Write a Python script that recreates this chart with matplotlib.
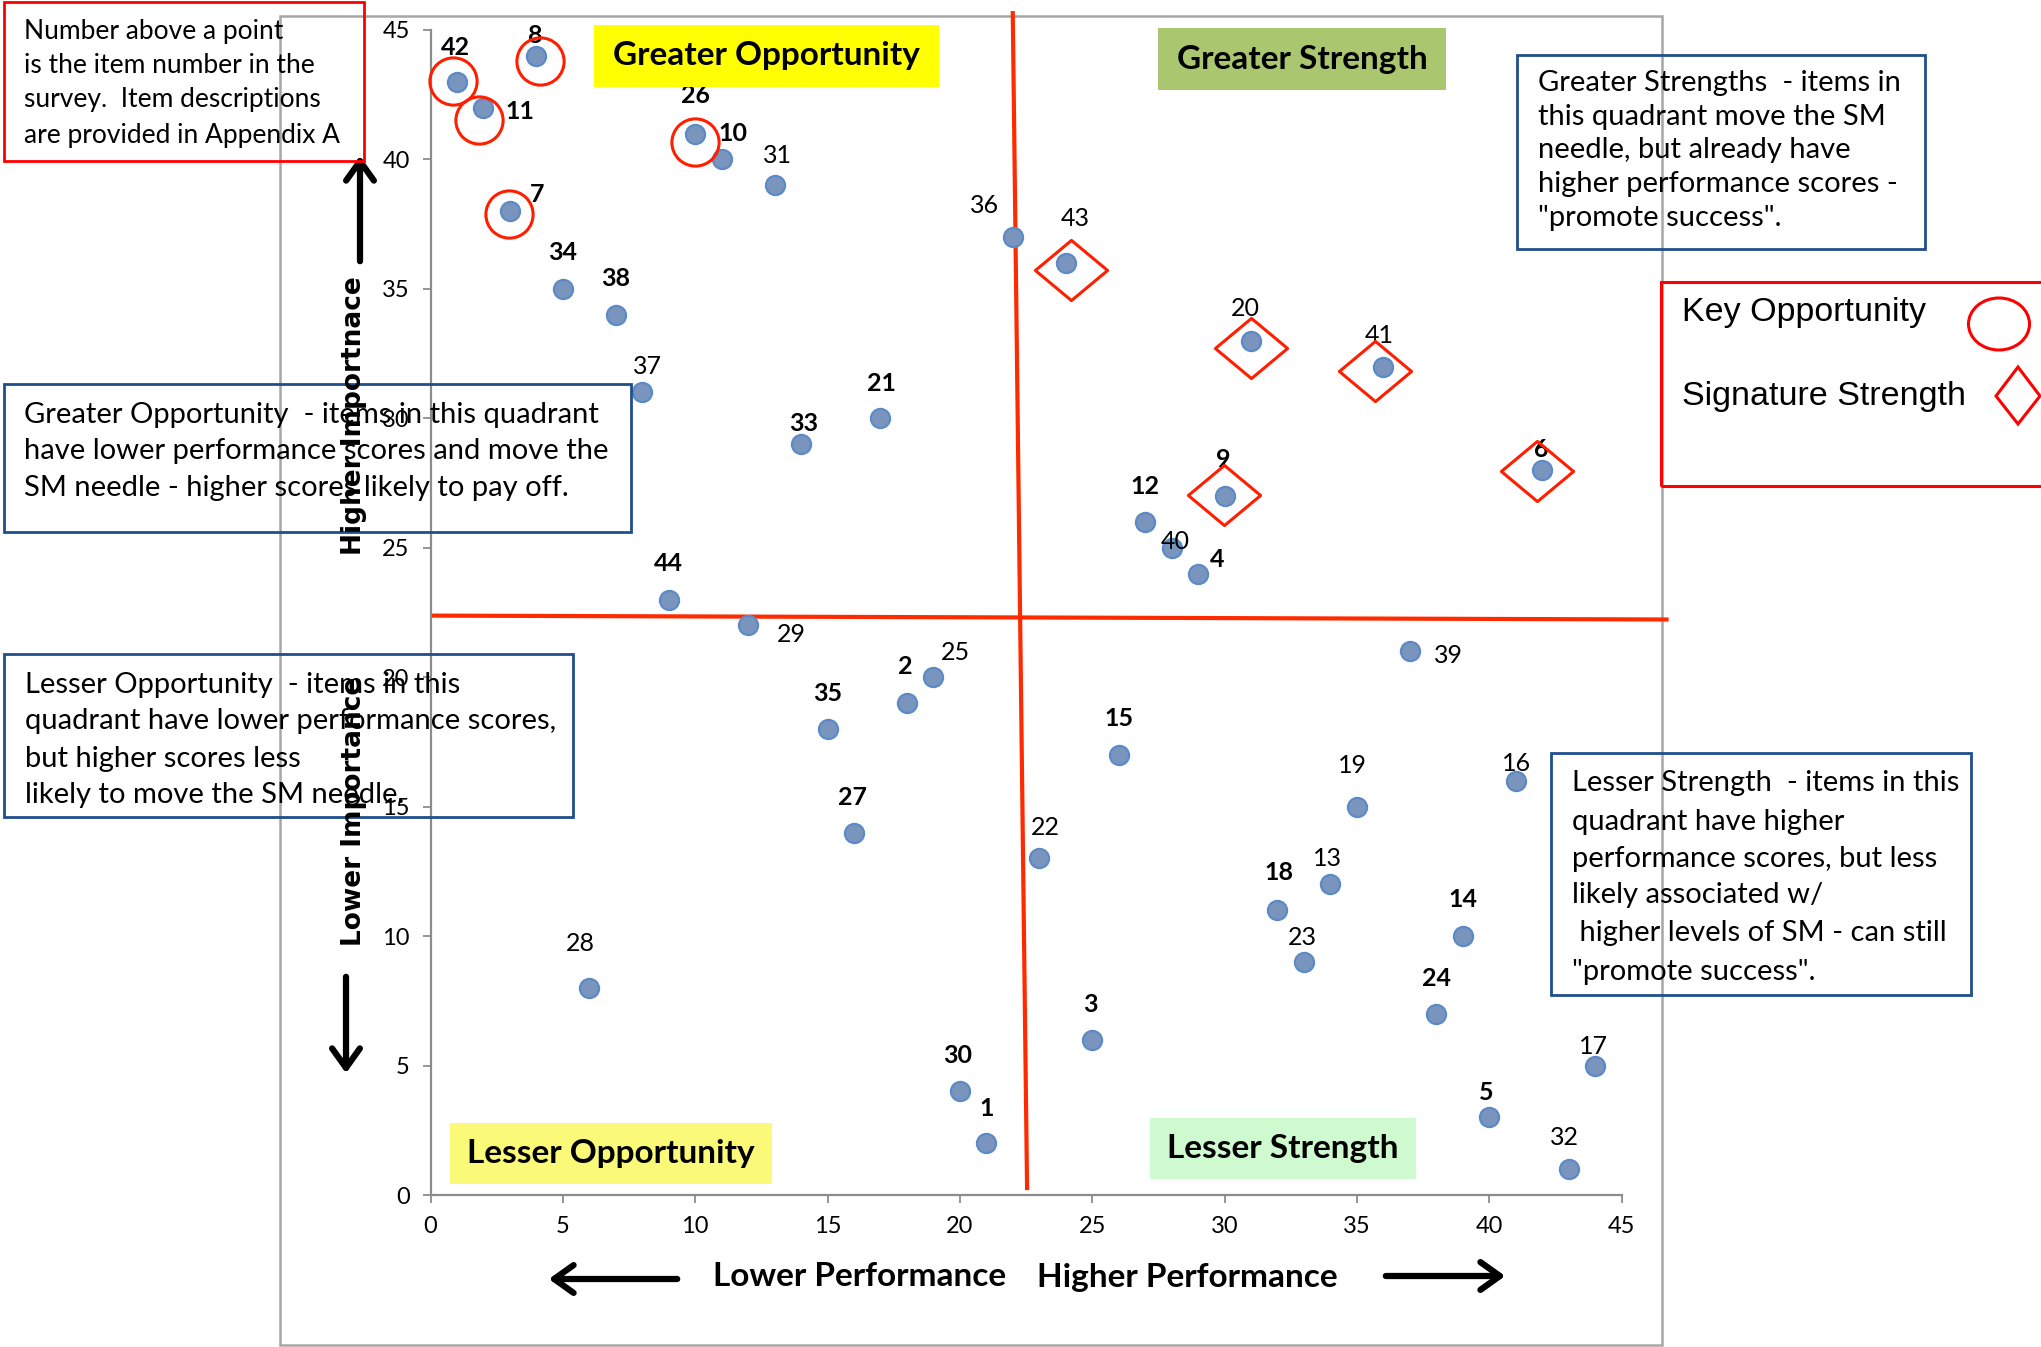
import matplotlib
matplotlib.use("Agg")
import matplotlib.pyplot as plt
from matplotlib.patches import Rectangle, Ellipse, Polygon
from matplotlib.path import Path
import matplotlib.transforms as mtransforms

# ---------------- data ----------------
items = list(range(1, 45))
performance = [21, 18, 25, 29, 40, 42, 3, 4, 30, 11, 2, 27, 34, 39, 26, 41, 44, 32, 35, 31, 17, 23,
               33, 38, 19, 10, 16, 6, 12, 20, 13, 43, 14, 5, 15, 22, 8, 7, 37, 28, 36, 1, 24, 9]
importance = [2, 19, 6, 24, 3, 28, 38, 44, 27, 40, 42, 26, 12, 10, 17, 16, 5, 11, 15, 33, 30, 13,
              9, 7, 20, 41, 14, 8, 22, 4, 39, 1, 29, 35, 18, 37, 31, 34, 21, 25, 32, 43, 36, 23]
key_opportunity = [42, 8, 11, 26, 7]
signature_strength = [43, 20, 41, 9, 6]
bold_items = {42, 8, 11, 26, 10, 7, 34, 38, 21, 33, 12, 9, 4, 44, 2, 35, 15, 27, 18, 14, 24, 3, 30, 1, 5, 6}
x_ticks = [0, 5, 10, 15, 20, 25, 30, 35, 40, 45]
y_ticks = [0, 5, 10, 15, 20, 25, 30, 35, 40, 45]
# dividing lines (data units): vertical and horizontal red lines
vline_x = [22.0, 22.54]
vline_y = [45.65, 0.27]
hline_x = [0.06, 46.7]
hline_y = [22.38, 22.23]

# ---------------- style / layout ----------------
W, H, DPI = 2041, 1347, 100
SANS = ["Lato", "DejaVu Sans"]
RED = "#FF2A00"

# label offsets (pixels, right / down) relative to point
lab_off = {42: (-1, -26), 8: (-1, -16), 11: (28, 3), 26: (0, -29), 10: (9, -20), 31: (2, -23),
           7: (21, -13), 36: (-22, -24), 43: (7, -34), 34: (0, -28), 38: (0, -28), 20: (-4, -25),
           41: (-3, -24), 37: (4, -20), 21: (1, -27), 33: (2, -16), 6: (-1, -16), 9: (-1, -28),
           12: (0, -27), 40: (3, -5), 4: (15, -11), 44: (0, -28), 29: (33, 7), 39: (30, 3),
           25: (17, -19), 2: (-1, -28), 35: (0, -27), 15: (0, -28), 16: (1, -13), 19: (-3, -32),
           27: (-1, -27), 22: (5, -24), 13: (-2, -20), 18: (1, -29), 14: (0, -28), 23: (-1, -19),
           28: (-7, -34), 24: (0, -27), 3: (-1, -27), 17: (-1, -15), 30: (-2, -28), 5: (-2, -19),
           1: (0, -27), 32: (-3, -24)}
circ_off = {42: (-4, -1), 8: (4, 5), 11: (-4, 12), 26: (0, 8), 7: (-1, 3)}
diam_off = {43: (5, 7), 20: (0, 7), 41: (-8, 4), 9: (-1, -1), 6: (-5, 1)}

fig = plt.figure(figsize=(W / DPI, H / DPI), dpi=DPI)
fig.patch.set_facecolor("white")


def fx(px):
    return px / W


def fy(py):
    return 1 - py / H


def frect(x0, y0, x1, y1, **kw):
    r = Rectangle((fx(x0), fy(y1)), (x1 - x0) / W, (y1 - y0) / H, transform=fig.transFigure, **kw)
    fig.add_artist(r)
    return r


def ftext(px, py, s, **kw):
    return fig.text(fx(px), fy(py), s, **kw)


# outer chart frame
frect(280, 16, 1662, 1345, fill=False, ec="#A6A6A6", lw=1.8, zorder=0)

ax = fig.add_axes([fx(430.5), fy(1195), (1621.5 - 430.5) / W, (1195 - 30) / H])
ax.set_facecolor("none")
ax.set_xlim(0, 45)
ax.set_ylim(0, 45)
ax.set_xticks(x_ticks)
ax.set_yticks(y_ticks)
for s in ("top", "right"):
    ax.spines[s].set_visible(False)
for s in ("left", "bottom"):
    ax.spines[s].set_color("#8C8C8C")
    ax.spines[s].set_linewidth(1.6)
ax.tick_params(direction="out", length=6, width=1.3, color="#8C8C8C", labelsize=17, pad=9)
for lab in ax.get_xticklabels() + ax.get_yticklabels():
    lab.set_family(SANS)

# red divider lines
ax.plot(vline_x, vline_y, color=RED, lw=3, clip_on=False, zorder=2)
ax.plot(hline_x, hline_y, color=RED, lw=3, clip_on=False, zorder=2)

# points
ax.scatter(performance, importance, s=190, c="#7A95BD", edgecolors="#5C8AC6", linewidths=1.6, zorder=4)

# labels
for it, x, y in zip(items, performance, importance):
    dx, dy = lab_off[it]
    ax.annotate(str(it), (x, y), xytext=(dx * 1.3, -dy * 1.3), textcoords="offset pixels",
                ha="center", va="center", fontsize=18, family=SANS,
                fontweight="bold" if it in bold_items else "normal", zorder=5)

# key opportunity circles
lookup = {it: (x, y) for it, x, y in zip(items, performance, importance)}
for it in key_opportunity:
    x, y = lookup[it]
    dx, dy = circ_off[it]
    tr = mtransforms.offset_copy(ax.transData, fig=fig, x=dx, y=-dy, units="dots")
    ax.plot([x], [y], marker="o", ms=34, mfc="none", mec="#FF1E00", mew=2.2, transform=tr,
            clip_on=False, zorder=5)

# signature strength diamonds
dpath = Path([(-0.6, 0), (0, 0.5), (0.6, 0), (0, -0.5), (-0.6, 0)],
             [Path.MOVETO, Path.LINETO, Path.LINETO, Path.LINETO, Path.CLOSEPOLY])
for it in signature_strength:
    x, y = lookup[it]
    dx, dy = diam_off[it]
    tr = mtransforms.offset_copy(ax.transData, fig=fig, x=dx, y=-dy, units="dots")
    ax.plot([x], [y], marker=dpath, ms=52, mfc="none", mec="#FF1E00", mew=2.2, transform=tr,
            clip_on=False, zorder=5)

# quadrant title boxes
quads = [
    ("Greater Opportunity", (594, 25, 939, 87), "#FFFF00"),
    ("Greater Strength", (1158, 28, 1446, 90), "#AAC66E"),
    ("Lesser Opportunity", (450, 1123, 772, 1184), "#FAFA78"),
    ("Lesser Strength", (1150, 1118, 1416, 1179), "#CFFACF"),
]
for txt, (x0, y0, x1, y1), col in quads:
    frect(x0, y0, x1, y1, fc=col, ec="none", zorder=1)
    ftext((x0 + x1) / 2, (y0 + y1) / 2, txt, ha="center", va="center", fontsize=24,
          fontweight="bold", family=SANS, zorder=6)

# description boxes (transparent)
boxes = [
    ((4, 2, 364, 161), "#FF0000", 24, 19,
     [("Number above a point", 31), ("is the item number in the", 65.5),
      ("survey.  Item descriptions", 100), ("are provided in Appendix A", 135)]),
    ((1517, 55, 1925, 249), "#1F4E8C", 1538, 21,
     [("Greater Strengths  - items in", 83), ("this quadrant move the SM", 117),
      ("needle, but already have", 150), ("higher performance scores -", 184),
      ('"promote success".', 218)]),
    ((4, 384, 631, 532), "#1F4E8C", 24, 21,
     [("Greater Opportunity  - items in this quadrant", 415),
      ("have lower performance scores and move the", 451),
      ("SM needle - higher scores likely to pay off.", 488)]),
    ((4, 654, 573, 817), "#1F4E8C", 25, 21,
     [("Lesser Opportunity  - items in this", 685),
      ("quadrant have lower performance scores,", 721),
      ("but higher scores less", 759), ("likely to move the SM needle.", 795)]),
    ((1551, 753, 1971, 995), "#1F4E8C", 1572, 21,
     [("Lesser Strength  - items in this", 783), ("quadrant have higher", 822),
      ("performance scores, but less", 859), ("likely associated w/", 895),
      (" higher levels of SM - can still", 933), ('"promote success".', 972)]),
]
for (x0, y0, x1, y1), ec, tx, fsz, lines in boxes:
    frect(x0, y0, x1, y1, fill=False, ec=ec, lw=2, zorder=6)
    for s, cy in lines:
        ftext(tx, cy, s, ha="left", va="center", fontsize=fsz, family=SANS, zorder=6)

# legend box
frect(1661, 282, 2060, 486, fill=False, ec="#FF0000", lw=2.2, zorder=6)
ftext(1682, 313, "Key Opportunity", ha="left", va="center", fontsize=24.5,
      family=["Liberation Sans", "DejaVu Sans"], zorder=6)
ftext(1682, 396, "Signature Strength", ha="left", va="center", fontsize=24.5,
      family=["Liberation Sans", "DejaVu Sans"], zorder=6)
fig.add_artist(Ellipse((fx(1999), fy(324)), 61 / W, 52 / H, transform=fig.transFigure,
                       fill=False, ec="#FF0000", lw=2.2))
fig.add_artist(Polygon([(fx(1996), fy(396)), (fx(2018), fy(367)), (fx(2040), fy(396)),
                        (fx(2018), fy(424))], closed=True, transform=fig.transFigure,
                       fill=False, ec="#FF0000", lw=2.2))

# axis titles
ftext(860, 1277, "Lower Performance", ha="center", va="center", fontsize=24, fontweight="bold",
      family=SANS)
ftext(1187, 1277, "Higher Performance", ha="center", va="center", fontsize=24, fontweight="bold",
      family=SANS)
ftext(354, 416, "Higher Importnace", ha="center", va="center", rotation=90, fontsize=19,
      fontweight="bold", family="DejaVu Sans", zorder=7)
ftext(354, 811, "Lower Importance", ha="center", va="center", rotation=90, fontsize=19,
      fontweight="bold", family="DejaVu Sans", zorder=7)

# arrows
arrows = [((680, 1279), (546, 1279)), ((1383, 1276), (1508, 1276)),
          ((360, 264), (360, 153)), ((346, 974), (346, 1076))]
for (tx0, ty0), (tx1, ty1) in arrows:
    fig.add_artist(matplotlib.patches.FancyArrowPatch(
        (fx(tx0), fy(ty0)), (fx(tx1), fy(ty1)), transform=fig.transFigure,
        arrowstyle="->,head_length=0.7,head_width=0.5", mutation_scale=20, lw=4.5, color="black"))

fig.savefig("out.png", dpi=DPI, facecolor="white")
